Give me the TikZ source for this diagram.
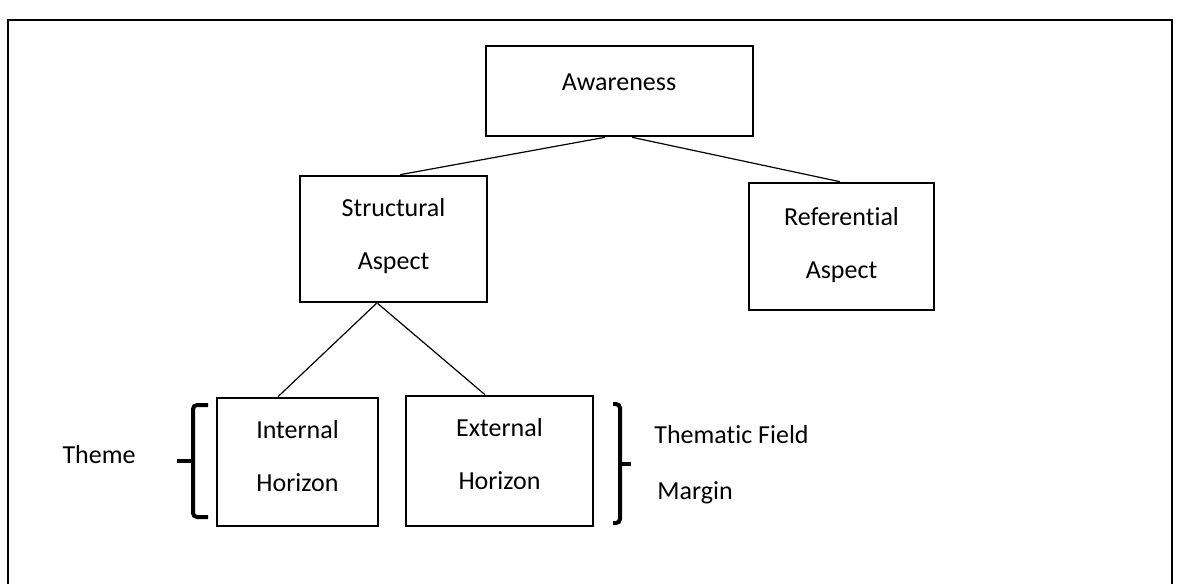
\documentclass[tikz,border=0pt]{standalone}
\usepackage{fontspec}
\setmainfont[Ligatures={NoCommon}]{Carlito}
\begin{document}
\begin{tikzpicture}[x=0.5pt,y=-0.5pt,
  box/.style={draw,line width=1.3pt,inner sep=0pt},
  lbl/.style={inner sep=0pt,align=center,font=\fontsize{13}{26.5}\selectfont},
  conn/.style={line width=0.6pt},
  brace/.style={line width=2pt,rounded corners=2pt}]
\useasboundingbox (0,0) rectangle (1181,583);
\draw[line width=0.9pt] (8,590) -- (8,20) -- (1172,20) -- (1172,590);
% boxes
\node[box,minimum width=133.5pt,minimum height=45pt] (aw) at (619.5,91) {};
\node[box,minimum width=93.5pt,minimum height=63pt] (st) at (393.5,239) {};
\node[box,minimum width=92.5pt,minimum height=63.5pt] (rf) at (841.5,246.5) {};
\node[box,minimum width=80.5pt,minimum height=64pt] (ih) at (297.5,462) {};
\node[box,minimum width=93.5pt,minimum height=65pt] (eh) at (499.5,461) {};
% texts
\node[lbl] (awt) at (619,82) {Awareness};
\node[lbl] (stt) at (393.5,236) {Structural\\Aspect};
\node[lbl] (rft) at (841.5,245) {Referential\\Aspect};
\node[lbl] (iht) at (297.5,456) {Internal\\Horizon};
\node[lbl] (eht) at (499.5,454) {External\\Horizon};
\node[lbl] (th) at (99,455) {Theme};
\node[lbl,anchor=west] (tf) at (654,435) {Thematic Field};
\node[lbl,anchor=west] (mg) at (657,493) {Margin};
% connectors
\draw[conn] ([xshift=-7.25pt]aw.south) -- ([xshift=3.25pt]st.north);
\draw[conn] ([xshift=6.25pt]aw.south) -- ([xshift=-0.75pt]rf.north);
\draw[conn] ([xshift=-8.5pt]st.south) -- ([xshift=-9.75pt]ih.north);
\draw[conn] ([xshift=-8pt]st.south) -- ([xshift=-7.25pt]eh.north);
% braces
\coordinate (lb) at (193,461);
\coordinate (rb) at (620,464);
\draw[brace] (208,405) -- (193,405) -- (lb) -- (193,517) -- (208,517);
\draw[brace] (lb) -- (177,461);
\draw[brace] (613,404) -- (620,404) -- (rb) -- (620,523) -- (613,523);
\draw[brace] (rb) -- (631,464);
\end{tikzpicture}
\end{document}
